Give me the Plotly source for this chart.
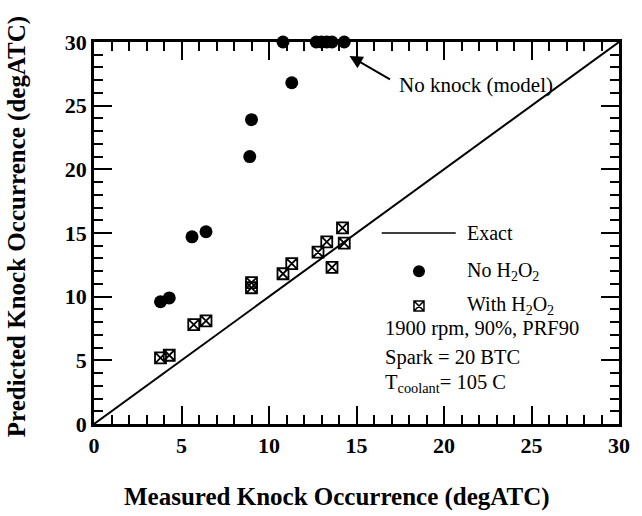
import plotly.graph_objects as go

# Measured vs. predicted knock occurrence (degATC)
measured_no_h2o2 = [3.8, 4.3, 5.6, 6.4, 8.9, 9.0, 10.8, 11.3, 12.7, 13.0, 13.3, 13.6, 14.3]
predicted_no_h2o2 = [9.6, 9.9, 14.7, 15.1, 21.0, 23.9, 30.0, 26.8, 30.0, 30.0, 30.0, 30.0, 30.0]

measured_with_h2o2 = [3.8, 4.3, 5.7, 6.4, 9.0, 9.0, 10.8, 11.3, 12.8, 13.3, 13.6, 14.2, 14.3]
predicted_with_h2o2 = [5.2, 5.4, 7.8, 8.1, 10.7, 11.1, 11.8, 12.6, 13.5, 14.3, 12.3, 15.4, 14.2]

exact_line = [0, 30]
axis_ticks = [0, 5, 10, 15, 20, 25, 30]

FONT = "Liberation Serif, Times New Roman, serif"
BLACK = "black"

fig = go.Figure()

fig.add_trace(go.Scatter(
    x=exact_line, y=exact_line, mode="lines",
    line=dict(color=BLACK, width=2), showlegend=False, cliponaxis=False,
))
fig.add_trace(go.Scatter(
    x=measured_no_h2o2, y=predicted_no_h2o2, mode="markers",
    marker=dict(symbol="circle", size=13, color=BLACK),
    showlegend=False, cliponaxis=False,
))
fig.add_trace(go.Scatter(
    x=measured_with_h2o2, y=predicted_with_h2o2, mode="markers",
    marker=dict(symbol="square-x-open", size=11, color=BLACK,
                line=dict(width=1.8, color=BLACK)),
    showlegend=False, cliponaxis=False,
))

# Key glyphs drawn on an overlay axis spanning the plot area (0..1)
fig.add_trace(go.Scatter(
    x=[0.548, 0.689], y=[0.50, 0.50], mode="lines",
    line=dict(color=BLACK, width=1.5), xaxis="x2", yaxis="y2",
    showlegend=False, hoverinfo="skip",
))
fig.add_trace(go.Scatter(
    x=[0.619], y=[0.40], mode="markers",
    marker=dict(symbol="circle", size=12, color=BLACK),
    xaxis="x2", yaxis="y2", showlegend=False, hoverinfo="skip",
))
fig.add_trace(go.Scatter(
    x=[0.619], y=[0.309], mode="markers",
    marker=dict(symbol="square-x-open", size=10, color=BLACK,
                line=dict(width=1.5, color=BLACK)),
    xaxis="x2", yaxis="y2", showlegend=False, hoverinfo="skip",
))

axis_style = dict(
    range=[0, 30], tickvals=axis_ticks, ticks="inside", ticklen=18, tickwidth=2,
    tickcolor=BLACK, showline=True, linewidth=2.8, linecolor=BLACK,
    mirror="allticks", showgrid=False, zeroline=False,
    tickfont=dict(family=FONT, size=22, color=BLACK, weight="bold"),
    minor=dict(dtick=1, ticks="inside", ticklen=9, tickwidth=2, tickcolor=BLACK),
)

key_text = [
    ("Exact", 0.707, 0.50),
    ("No H<sub>2</sub>O<sub>2</sub>", 0.707, 0.40),
    ("With H<sub>2</sub>O<sub>2</sub>", 0.707, 0.31),
]
annotations = []
for txt, ax_, ay_ in key_text:
    annotations.append(dict(
        text=txt, x=ax_, y=ay_, xref="paper", yref="paper",
        xanchor="left", yanchor="middle", showarrow=False,
        font=dict(family=FONT, size=20, color=BLACK),
    ))

condition_lines = [
    ("1900 rpm, 90%, PRF90", 0.250),
    ("Spark = 20 BTC", 0.175),
    ("T<sub>coolant</sub>= 105 C", 0.107),
]
for txt, ay_ in condition_lines:
    annotations.append(dict(
        text=txt, x=0.55, y=ay_, xref="paper", yref="paper",
        xanchor="left", yanchor="middle", showarrow=False,
        font=dict(family=FONT, size=20.5, color=BLACK),
    ))

# Label for the capped model predictions
annotations.append(dict(
    text="No knock (model)", x=17.3, y=26.6, xref="x", yref="y",
    xanchor="left", yanchor="middle", showarrow=False,
    font=dict(family=FONT, size=21, color=BLACK),
))
annotations.append(dict(
    text="", x=14.6, y=28.9, ax=17.0, ay=27.0, xref="x", yref="y",
    axref="x", ayref="y", showarrow=True, arrowhead=2, arrowsize=1.3,
    arrowwidth=2, arrowcolor=BLACK,
))

# Axis titles
annotations.append(dict(
    text="Measured Knock Occurrence (degATC)", x=0.463, y=0, xref="paper",
    yref="paper", yshift=-73, xanchor="center", yanchor="middle",
    showarrow=False, font=dict(family=FONT, size=25, color=BLACK, weight="bold"),
))
annotations.append(dict(
    text="Predicted Knock Occurrence (degATC)", x=0, y=0.515, xref="paper",
    yref="paper", xshift=-77, xanchor="center", yanchor="middle",
    textangle=-90, showarrow=False,
    font=dict(family=FONT, size=25, color=BLACK, weight="bold"),
))

fig.update_layout(
    width=642, height=516,
    margin=dict(l=94, r=21, t=42, b=92),
    paper_bgcolor="white", plot_bgcolor="white",
    xaxis=axis_style,
    yaxis=axis_style,
    xaxis2=dict(range=[0, 1], overlaying="x", visible=False, fixedrange=True),
    yaxis2=dict(range=[0, 1], overlaying="y", visible=False, fixedrange=True),
    annotations=annotations,
    showlegend=False,
)

fig.write_html("out.html")
